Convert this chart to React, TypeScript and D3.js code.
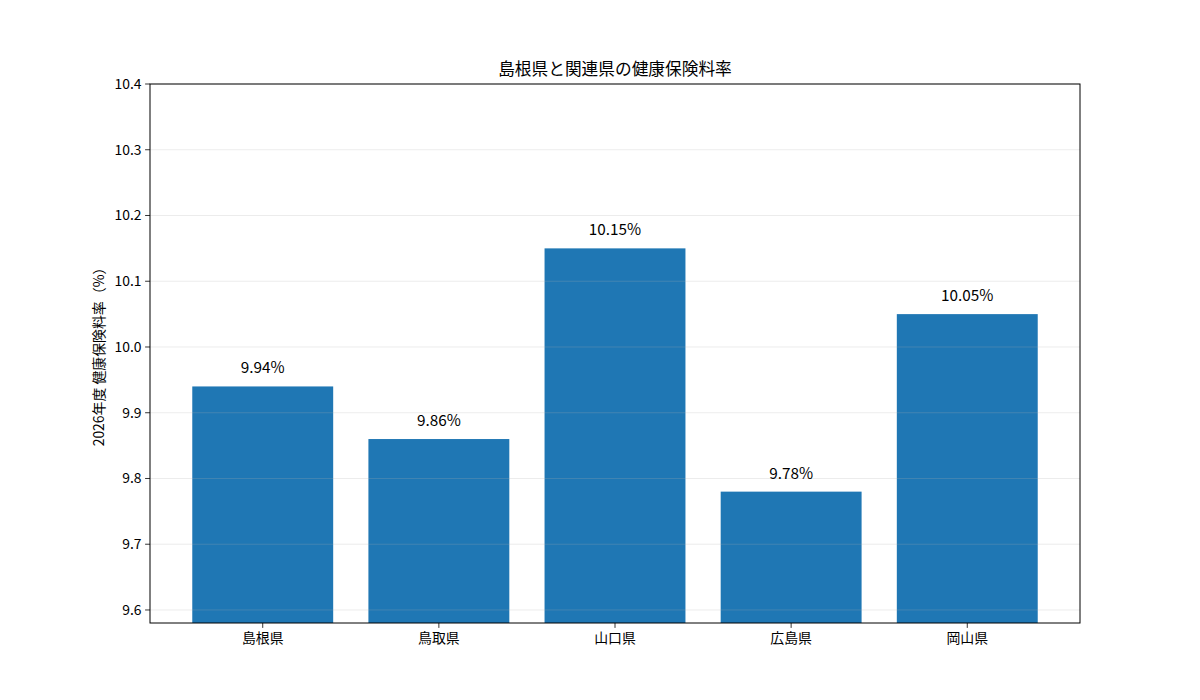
import React from "react";
import * as d3 from "d3";

const categories = ["島根県", "鳥取県", "山口県", "広島県", "岡山県"];
const rates = [9.94, 9.86, 10.15, 9.78, 10.05];
const yTicks = [9.6, 9.7, 9.8, 9.9, 10.0, 10.1, 10.2, 10.3, 10.4];

const W = 1200;
const H = 700;
const M = { left: 150, right: 1080, top: 84, bottom: 623 };
const FONT = "'Noto Sans CJK JP', 'Noto Sans', sans-serif";

export default function App() {
  const x = d3.scaleLinear().domain([-0.64, 4.64]).range([M.left, M.right]);
  const y = d3.scaleLinear().domain([9.5802, 10.4]).range([M.bottom, M.top]);
  const bw = x(0.8) - x(0);

  return (
    <svg width={W} height={H} style={{ position: "absolute", left: 0, top: 0 }} fontFamily={FONT}>
      <rect x={0} y={0} width={W} height={H} fill="#fff" />
      {categories.map((c, i) => (
        <rect key={c} x={x(i) - bw / 2} y={y(rates[i])} width={bw} height={M.bottom - y(rates[i])} fill="#1f77b4" />
      ))}
      {yTicks.map((t) => (
        <line key={t} x1={M.left} x2={M.right} y1={y(t)} y2={y(t)} stroke="#b0b0b0" strokeOpacity={0.3} strokeWidth={0.8} />
      ))}
      {categories.map((c, i) => (
        <text key={c + "l"} x={x(i)} y={y(rates[i]) - 13} textAnchor="middle" fontSize={15.3} fill="#000">
          {rates[i].toFixed(2)}%
        </text>
      ))}
      <rect x={M.left} y={M.top} width={M.right - M.left} height={M.bottom - M.top} fill="none" stroke="#000" strokeWidth={1} />
      {yTicks.map((t) => (
        <g key={t + "t"}>
          <line x1={M.left - 4.9} x2={M.left} y1={y(t)} y2={y(t)} stroke="#000" strokeWidth={0.8} />
          <text x={M.left - 8.5} y={y(t)} dy="0.35em" textAnchor="end" fontSize={13.9} fill="#000">
            {t.toFixed(1)}
          </text>
        </g>
      ))}
      {categories.map((c, i) => (
        <g key={c + "x"}>
          <line x1={x(i)} x2={x(i)} y1={M.bottom} y2={M.bottom + 4.9} stroke="#000" strokeWidth={0.8} />
          <text x={x(i)} y={M.bottom + 20} textAnchor="middle" fontSize={13.9} fill="#000">
            {c}
          </text>
        </g>
      ))}
      <text
        transform={`translate(104, ${(M.top + M.bottom) / 2}) rotate(-90)`}
        textAnchor="middle"
        fontSize={13.9}
        fill="#000"
      >
        2026年度 健康保険料率（%）
      </text>
      <text x={(M.left + M.right) / 2} y={M.top - 9} textAnchor="middle" fontSize={16.7} fill="#000">
        島根県と関連県の健康保険料率
      </text>
    </svg>
  );
}
